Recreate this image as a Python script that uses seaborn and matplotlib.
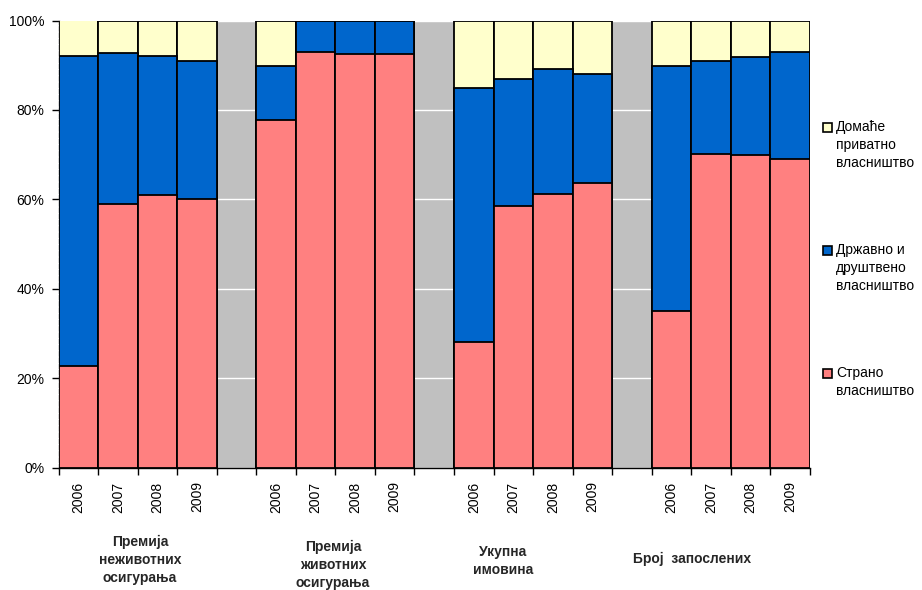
import matplotlib
matplotlib.use("Agg")
import matplotlib.pyplot as plt
from matplotlib.patches import Rectangle
from matplotlib.ticker import FixedLocator, FuncFormatter
import numpy as np
import pandas as pd
import seaborn as sns

# Ownership structure of the insurance sector, shares in percent
groups = ["Премија\nнеживотних\nосигурања", "Премија\nживотних\nосигурања",
          "Укупна\nимовина", "Број  запослених"]
years = ["2006", "2007", "2008", "2009"]
strano = [22.7, 58.9, 61.0, 60.1, 77.7, 92.9, 92.4, 92.4,
          28.1, 58.6, 61.1, 63.7, 34.9, 70.1, 69.8, 69.0]
drzavno = [69.4, 33.9, 31.1, 30.9, 12.2, 7.1, 7.6, 7.6,
           56.8, 28.4, 28.0, 24.4, 54.9, 20.9, 22.0, 23.9]
domace = [7.9, 7.2, 7.9, 9.0, 10.1, 0.0, 0.0, 0.0,
          15.1, 13.0, 10.9, 11.9, 10.2, 9.0, 8.2, 7.1]
series_labels = ["Домаће\nприватно\nвласништво",
                 "Државно и\nдруштвено\nвласништво",
                 "Страно\nвласништво"]

col_red = "#FF8080"
col_blue = "#0066CC"
col_yellow = "#FFFFCC"
col_bg = "#C0C0C0"

# 4 groups of 4 bars, one empty slot between groups
n_slots = len(groups) * 5 - 1
slot_order = [f"s{i}" for i in range(n_slots)]
rows = []
k = 0
for g in range(len(groups)):
    for j, y in enumerate(years):
        slot = g * 5 + j
        rows.append({"slot": f"s{slot}", "year": y,
                     "red": strano[k],
                     "blue": strano[k] + drzavno[k],
                     "yellow": strano[k] + drzavno[k] + domace[k]})
        k += 1
df = pd.DataFrame(rows)

sns.set_style("white")
plt.rcParams["font.family"] = ["Liberation Sans", "DejaVu Sans"]

fig = plt.figure(figsize=(9.22, 5.9), dpi=100)
ax = fig.add_axes([58.5 / 922, 1 - 467.5 / 590, (810 - 58.5) / 922, 447 / 590])
ax.set_facecolor(col_bg)

for col, c in [("yellow", col_yellow), ("blue", col_blue), ("red", col_red)]:
    sns.barplot(data=df, x="slot", y=col, order=slot_order, color=c,
                saturation=1, width=1.0, edgecolor="black", linewidth=1.3,
                errorbar=None, ax=ax, zorder=3)

ax.set_xlim(-0.5, n_slots - 0.5)
ax.set_ylim(0, 100)
ax.set_xlabel("")
ax.set_ylabel("")

# y axis
ax.yaxis.set_major_locator(FixedLocator(np.arange(0, 101, 20)))
ax.yaxis.set_major_formatter(FuncFormatter(lambda v, p: f"{v:.0f}%"))
ax.yaxis.grid(True, color="white", linewidth=1.0, zorder=0)
ax.set_axisbelow(True)
ax.tick_params(axis="y", which="major", length=5, width=1, color="black",
               direction="out", pad=5, labelsize=10, labelcolor="black", left=True)

# x axis: year labels under bars, tick marks on slot boundaries
xlabels = []
for i in range(n_slots):
    xlabels.append(years[i % 5] if i % 5 < 4 else "")
ax.set_xticks(range(n_slots))
ax.set_xticklabels(xlabels, rotation=90, fontsize=10, color="black")
ax.set_xticks(np.arange(-0.5, n_slots, 1.0), minor=True)
ax.tick_params(axis="x", which="major", length=0, pad=10, bottom=True)
ax.tick_params(axis="x", which="minor", length=5, width=1, color="black",
               direction="out", bottom=True)

for s in ["top", "right"]:
    ax.spines[s].set_visible(False)
ax.spines["bottom"].set_color("black")
ax.spines["bottom"].set_linewidth(1.0)
ax.spines["left"].set_color("#333333")
ax.spines["left"].set_linewidth(1.0)
ax.spines["left"].set_linestyle((0, (3, 1.5)))

# group captions
W, H = 922, 590
group_pos = [(140, 560), (333, 565), (503, 561), (692, 559)]
for txt, (px, py) in zip(groups, group_pos):
    fig.text(px / W, 1 - py / H, txt, ha="center", va="center",
             fontsize=10, fontweight="bold", linespacing=1.35)

# legend
leg_items = [(col_yellow, 127), (col_blue, 250), (col_red, 373)]
for (c, py), lab in zip(leg_items, series_labels):
    fig.patches.append(Rectangle((823 / W, 1 - (py + 4.5) / H), 9 / W, 9 / H,
                                 transform=fig.transFigure, facecolor=c,
                                 edgecolor="black", linewidth=1.2))
    for li, line in enumerate(lab.split("\n")):
        fig.text(836 / W, 1 - (py + li * 18) / H, line, ha="left",
                 va="center", fontsize=10, color="black")

fig.savefig("out.png", dpi=100)
